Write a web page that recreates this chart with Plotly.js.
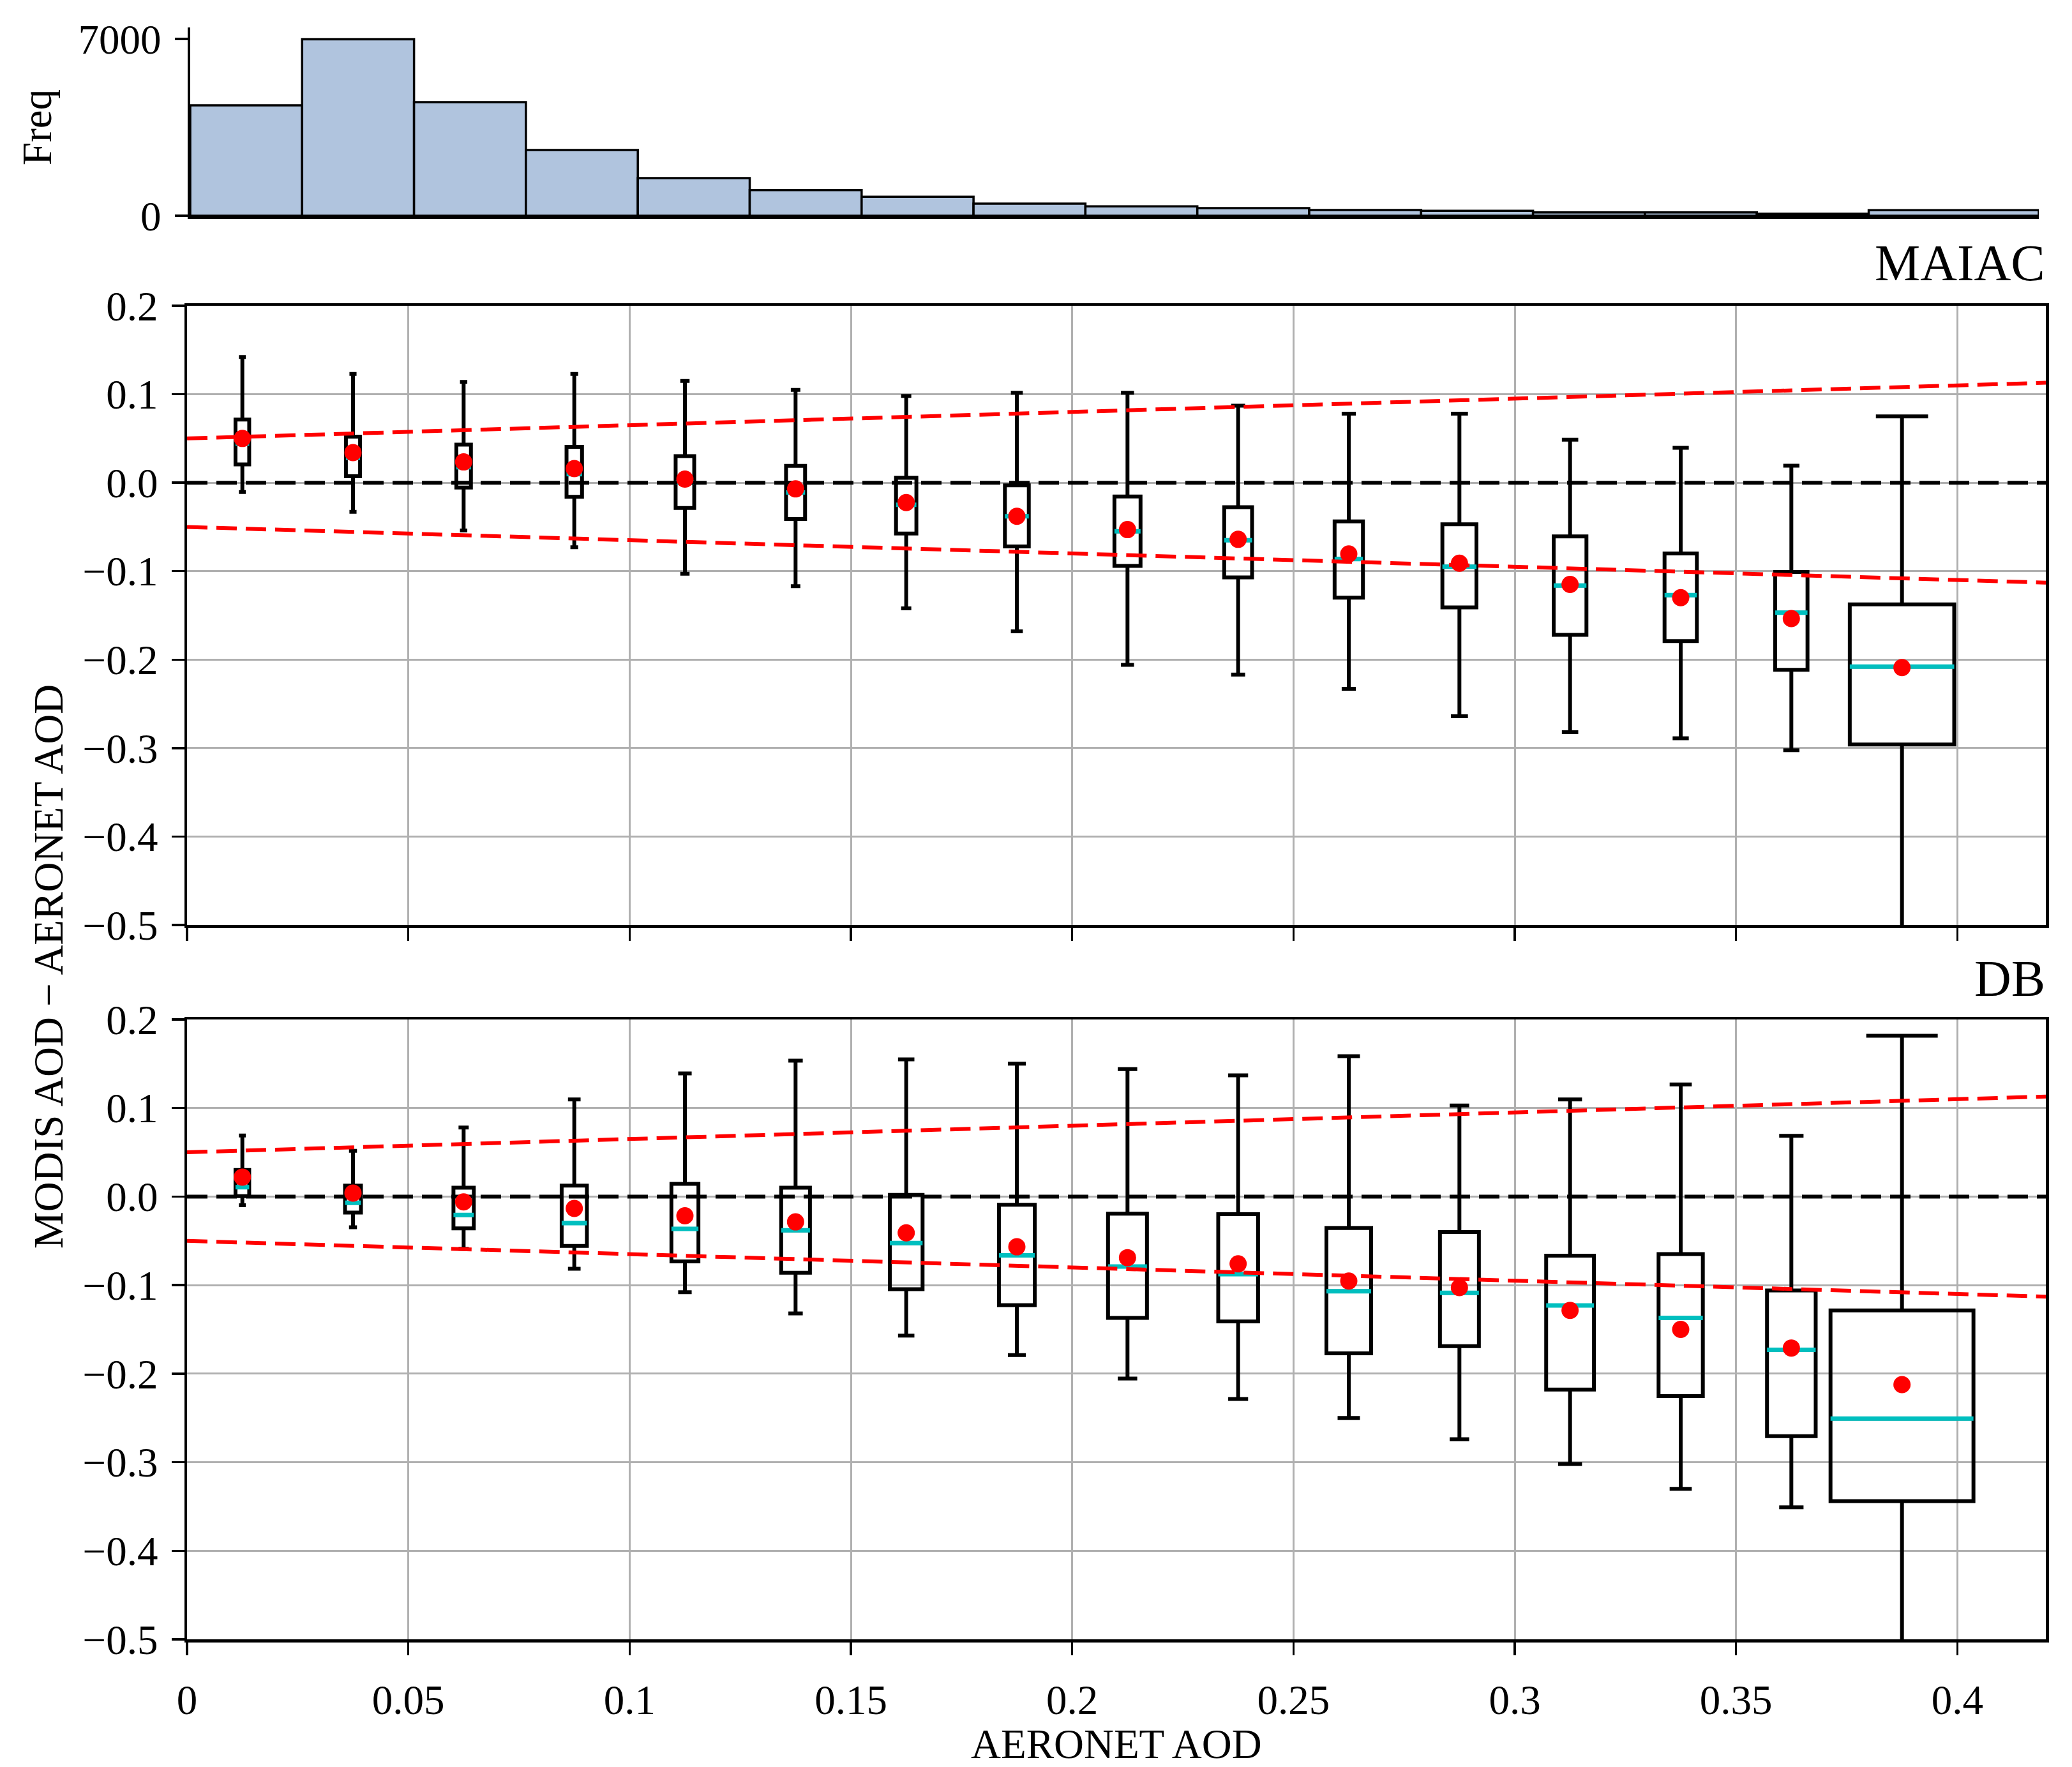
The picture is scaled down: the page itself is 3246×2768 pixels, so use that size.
<!DOCTYPE html>
<html>
<head>
<meta charset="utf-8">
<script src="https://cdn.plot.ly/plotly-3.0.1.min.js"></script>
<style>html,body{margin:0;padding:0;background:#fff;}#chart{width:3246px;height:2768px;}</style>
</head>
<body>
<div id="chart"></div>
<script>
// ---------------- data ----------------
const histBinEdges = [0, 0.025, 0.05, 0.075, 0.1, 0.125, 0.15, 0.175, 0.2, 0.225, 0.25, 0.275, 0.3, 0.325, 0.35, 0.375, 0.413];
const histCounts = [4370, 6990, 4500, 2600, 1490, 1015, 750, 480, 370, 305, 230, 195, 135, 135, 85, 220];

const binCenters = [0.0125, 0.0375, 0.0625, 0.0875, 0.1125, 0.1375, 0.1625, 0.1875, 0.2125, 0.2375, 0.2625, 0.2875, 0.3125, 0.3375, 0.3625, 0.3875];

const maiacUpper  = [0.142, 0.123, 0.114, 0.123, 0.115, 0.105, 0.098, 0.1016, 0.1016, 0.087, 0.078, 0.078, 0.0487, 0.0395, 0.0193, 0.075];
const maiacQ3     = [0.0713, 0.052, 0.043, 0.0405, 0.030, 0.019, 0.0055, -0.003, -0.0156, -0.0276, -0.0437, -0.047, -0.0607, -0.080, -0.101, -0.1375];
const maiacMedian = [0.044, 0.028, 0.0175, 0.0097, 0.0, -0.011, -0.025, -0.038, -0.055, -0.065, -0.0864, -0.095, -0.1163, -0.127, -0.147, -0.208];
const maiacQ1     = [0.0207, 0.0074, -0.0055, -0.016, -0.0285, -0.041, -0.0575, -0.072, -0.094, -0.107, -0.130, -0.141, -0.172, -0.179, -0.2115, -0.296];
const maiacLower  = [-0.0106, -0.033, -0.054, -0.073, -0.103, -0.117, -0.142, -0.168, -0.206, -0.217, -0.233, -0.264, -0.282, -0.289, -0.3025, -0.62];
const maiacMean   = [0.050, 0.034, 0.0235, 0.016, 0.004, -0.007, -0.0225, -0.038, -0.053, -0.064, -0.0805, -0.091, -0.115, -0.130, -0.1536, -0.209];
const maiacWidth  = [0.0031, 0.0032, 0.0033, 0.0035, 0.0042, 0.0043, 0.0046, 0.0054, 0.0059, 0.0063, 0.0064, 0.0077, 0.0074, 0.0073, 0.0073, 0.0236];

const dbUpper  = [0.069, 0.0516, 0.078, 0.1097, 0.139, 0.1535, 0.155, 0.150, 0.144, 0.137, 0.1585, 0.1028, 0.1097, 0.1267, 0.0687, 0.1816];
const dbQ3     = [0.030, 0.0124, 0.010, 0.0124, 0.0143, 0.010, 0.002, -0.0092, -0.0194, -0.0198, -0.0355, -0.040, -0.0668, -0.065, -0.106, -0.1286];
const dbMedian = [0.0106, -0.007, -0.0207, -0.030, -0.0364, -0.038, -0.0525, -0.0664, -0.079, -0.0876, -0.107, -0.1088, -0.123, -0.137, -0.173, -0.2507];
const dbQ1     = [0.0005, -0.018, -0.036, -0.0558, -0.0733, -0.086, -0.1046, -0.1226, -0.137, -0.141, -0.177, -0.169, -0.218, -0.2253, -0.2705, -0.344];
const dbLower  = [-0.0097, -0.0346, -0.059, -0.0816, -0.108, -0.132, -0.157, -0.179, -0.2055, -0.2286, -0.25, -0.274, -0.302, -0.33, -0.351, -0.68];
const dbMean   = [0.022, 0.004, -0.006, -0.0134, -0.0217, -0.0286, -0.041, -0.0567, -0.069, -0.076, -0.0954, -0.1028, -0.1286, -0.150, -0.171, -0.2124];
const dbWidth  = [0.0031, 0.0036, 0.0046, 0.0057, 0.0061, 0.0065, 0.0074, 0.0081, 0.0088, 0.0090, 0.0101, 0.0088, 0.0108, 0.0100, 0.0110, 0.0323];

// expected-error envelope: ±(0.05 + 0.15·AOD)
const eeIntercept = 0.05;
const eeSlope = 0.15;
const xMax = 0.42;

const panelLabels = ['MAIAC', 'DB'];
const xTitle = 'AERONET AOD';
const yTitle = 'MODIS AOD − AERONET AOD';
const histTitle = 'Freq';

// ---------------- styling ----------------
const W = 3246, H = 2768;
const FONT = 'Liberation Serif, Times New Roman, serif';
const FS = 65;
const px = v => v / W;
const py = v => 1 - v / H;
const CYAN = '#00BFBF';
const GRID = '#b0b0b0';
const DASH = '32px,14px';

const traces = [];

// histogram
const histCenters = histCounts.map((_, i) => (histBinEdges[i] + histBinEdges[i + 1]) / 2);
const histWidths = histCounts.map((_, i) => histBinEdges[i + 1] - histBinEdges[i]);
traces.push({
  type: 'bar', x: histCenters, y: histCounts, width: histWidths,
  marker: {color: '#B0C4DE', line: {color: 'black', width: 3.5}},
  xaxis: 'x', yaxis: 'y', hoverinfo: 'skip'
});

function addPanel(xa, ya, upper, q3, med, q1, lower, mean, widths) {
  binCenters.forEach((c, i) => {
    traces.push({
      type: 'box', x: [c], q1: [q1[i]], median: [med[i]], q3: [q3[i]],
      lowerfence: [lower[i]], upperfence: [upper[i]],
      width: widths[i], whiskerwidth: 0.5, boxpoints: false,
      line: {color: 'black', width: 6}, fillcolor: 'rgba(0,0,0,0)',
      xaxis: xa, yaxis: ya, hoverinfo: 'skip'
    });
  });
  // median segments
  const mx = [], my = [];
  binCenters.forEach((c, i) => {
    mx.push(c - widths[i] / 2, c + widths[i] / 2, null);
    my.push(med[i], med[i], null);
  });
  traces.push({type: 'scatter', mode: 'lines', x: mx, y: my, line: {color: CYAN, width: 7},
    xaxis: xa, yaxis: ya, hoverinfo: 'skip', connectgaps: false});
  // zero line
  traces.push({type: 'scatter', mode: 'lines', x: [0, xMax], y: [0, 0],
    line: {color: 'black', width: 6, dash: DASH}, xaxis: xa, yaxis: ya, hoverinfo: 'skip'});
  // EE lines
  traces.push({type: 'scatter', mode: 'lines', x: [0, xMax], y: [eeIntercept, eeIntercept + eeSlope * xMax],
    line: {color: 'red', width: 6, dash: DASH}, xaxis: xa, yaxis: ya, hoverinfo: 'skip'});
  traces.push({type: 'scatter', mode: 'lines', x: [0, xMax], y: [-eeIntercept, -(eeIntercept + eeSlope * xMax)],
    line: {color: 'red', width: 6, dash: DASH}, xaxis: xa, yaxis: ya, hoverinfo: 'skip'});
  // means
  traces.push({type: 'scatter', mode: 'markers', x: binCenters, y: mean,
    marker: {color: 'red', size: 27, line: {width: 0}}, xaxis: xa, yaxis: ya, hoverinfo: 'skip'});
}
addPanel('x2', 'y2', maiacUpper, maiacQ3, maiacMedian, maiacQ1, maiacLower, maiacMean, maiacWidth);
addPanel('x3', 'y3', dbUpper, dbQ3, dbMedian, dbQ1, dbLower, dbMean, dbWidth);

const mainXDomain = [px(293), px(3205)];
function xAxisMain(anchor, labels) {
  return {
    anchor: anchor, domain: mainXDomain, range: [0, xMax], tick0: 0, dtick: 0.05,
    ticks: 'outside', ticklen: 20, tickwidth: 3.5, tickcolor: 'black',
    showticklabels: labels, tickfont: {family: FONT, size: FS, color: 'black'},
    showgrid: true, gridcolor: GRID, gridwidth: 3, zeroline: false,
    showline: true, mirror: true, linecolor: 'black', linewidth: 4.5,
    ticklabelstandoff: 14
  };
}
function yAxisMain(anchor, dom) {
  return {
    anchor: anchor, domain: dom, range: [-0.5, 0.2], tick0: 0, dtick: 0.1, tickformat: '.1f',
    ticks: 'outside', ticklen: 20, tickwidth: 3.5, tickcolor: 'black',
    tickfont: {family: FONT, size: FS, color: 'black'},
    showgrid: true, gridcolor: GRID, gridwidth: 3, zeroline: false,
    showline: true, mirror: true, linecolor: 'black', linewidth: 4.5,
    ticklabelstandoff: 8
  };
}

const layout = {
  width: W, height: H, margin: {l: 0, r: 0, t: 0, b: 0},
  paper_bgcolor: 'white', plot_bgcolor: 'white', showlegend: false, boxmode: 'overlay',
  font: {family: FONT, size: FS, color: 'black'},
  xaxis: {
    anchor: 'y', domain: [px(298), px(3194)], range: [0, histBinEdges[histBinEdges.length - 1]],
    showgrid: false, zeroline: false, showline: true, linecolor: 'black', linewidth: 4.5,
    ticks: '', showticklabels: false
  },
  yaxis: {
    anchor: 'x', domain: [py(338), py(43)], range: [0, 7455], tickvals: [0, 7000], ticktext: ['0', '7000'],
    ticks: 'outside', ticklen: 20, tickwidth: 3.5, tickcolor: 'black',
    tickfont: {family: FONT, size: FS, color: 'black'},
    showgrid: false, zeroline: false, showline: true, linecolor: 'black', linewidth: 4.5,
    ticklabelstandoff: 8
  },
  xaxis2: xAxisMain('y2', false),
  yaxis2: yAxisMain('x2', [py(1449), py(479)]),
  xaxis3: xAxisMain('y3', true),
  yaxis3: yAxisMain('x3', [py(2568), py(1597)]),
  annotations: [
    {text: histTitle, xref: 'paper', yref: 'paper', x: px(58), y: py(199), xanchor: 'center', yanchor: 'middle',
     textangle: -90, showarrow: false, font: {family: FONT, size: FS, color: 'black'}},
    {text: yTitle, xref: 'paper', yref: 'paper', x: px(76), y: py(1514), xanchor: 'center', yanchor: 'middle',
     textangle: -90, showarrow: false, font: {family: FONT, size: FS, color: 'black'}},
    {text: xTitle, xref: 'paper', yref: 'paper', x: px(1749), y: py(2732), xanchor: 'center', yanchor: 'middle',
     showarrow: false, font: {family: FONT, size: FS, color: 'black'}},
    {text: panelLabels[0], xref: 'paper', yref: 'paper', x: px(3206), y: py(412), xanchor: 'right', yanchor: 'middle',
     showarrow: false, font: {family: FONT, size: 80, color: 'black'}},
    {text: panelLabels[1], xref: 'paper', yref: 'paper', x: px(3206), y: py(1533), xanchor: 'right', yanchor: 'middle',
     showarrow: false, font: {family: FONT, size: 80, color: 'black'}}
  ]
};

Plotly.newPlot('chart', traces, layout, {displayModeBar: false, staticPlot: true});
</script>
</body>
</html>
